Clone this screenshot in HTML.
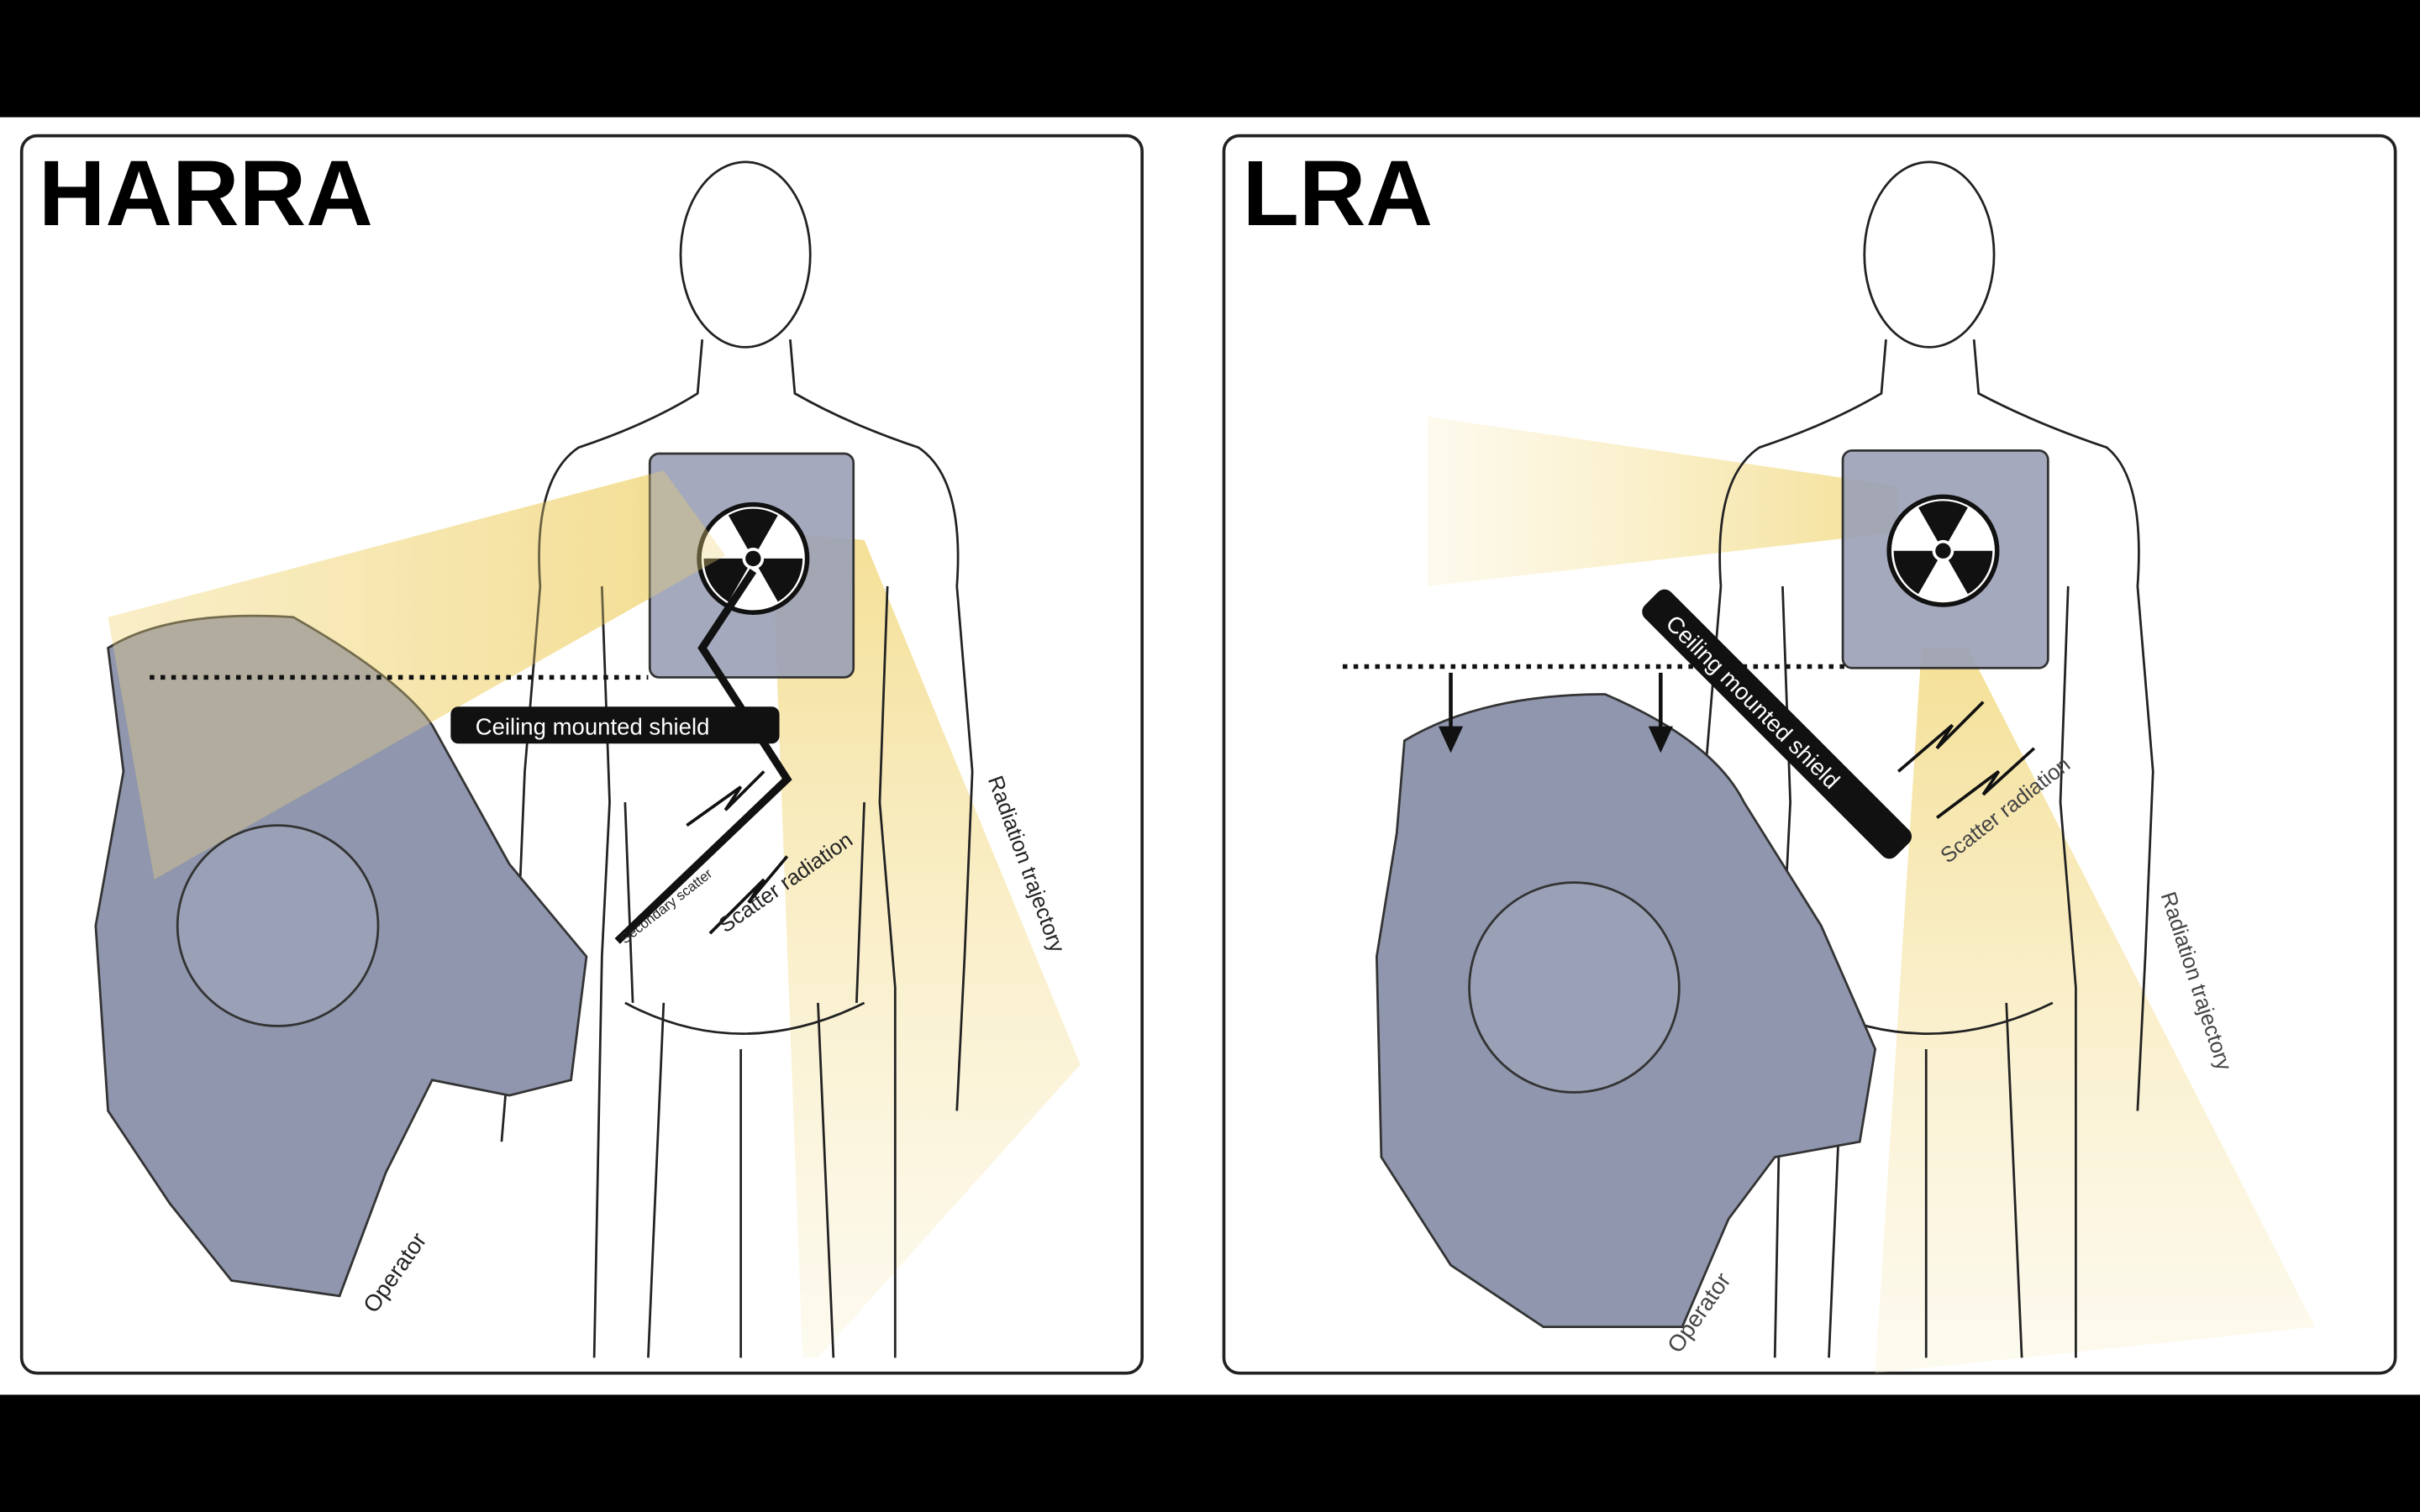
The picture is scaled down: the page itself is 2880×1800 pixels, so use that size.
<!DOCTYPE html>
<html><head><meta charset="utf-8"><style>html,body{margin:0;padding:0;background:#000}svg{display:block}</style></head><body>
<svg width="2880" height="1800" viewBox="0 0 1568 980" xmlns="http://www.w3.org/2000/svg" font-family="Liberation Sans, sans-serif">
<defs>
<linearGradient id="bl" x1="1" y1="0" x2="0" y2="0"><stop offset="0" stop-color="#f3dc8a" stop-opacity=".9"/><stop offset="1" stop-color="#f7e7a8" stop-opacity=".2"/></linearGradient>
<linearGradient id="bd" x1="0" y1="0" x2="0" y2="1"><stop offset="0" stop-color="#f3dc8a" stop-opacity=".9"/><stop offset="1" stop-color="#f8ecc0" stop-opacity=".25"/></linearGradient>
</defs>
<rect width="1568" height="980" fill="#000"/>
<rect x="0" y="76" width="1568" height="828" fill="#fff"/>
<rect x="14" y="88" width="726" height="802" rx="10" fill="#fff" stroke="#222" stroke-width="2"/>
<rect x="793" y="88" width="759" height="802" rx="10" fill="#fff" stroke="#222" stroke-width="2"/>

<!-- LEFT PANEL -->
<polygon points="430,305 70,400 100,570 470,360" fill="url(#bl)"/>
<polygon points="500,345 560,350 700,690 530,880 520,880" fill="url(#bd)"/>
<g fill="none" stroke="#222" stroke-width="1.5">
<ellipse cx="483" cy="165" rx="42" ry="60"/>
<path d="M455,220 L452,255 Q420,275 375,290 Q345,310 350,380 L340,500 L335,620 L325,740"/>
<path d="M512,220 L515,255 Q550,275 595,290 Q625,310 620,380 L630,500 L625,620 L620,720"/>
<path d="M390,380 L395,520 L390,620 L385,880 M405,520 L410,650"/>
<path d="M575,380 L570,520 L580,640 L580,880 M560,520 L555,650"/>
<path d="M430,650 L420,880 M530,650 L540,880 M480,680 L480,880"/>
<path d="M405,650 Q480,690 560,650"/>
</g>
<rect x="421" y="294" width="132" height="145" rx="6" fill="#9aa0b6" fill-opacity=".9" stroke="#333" stroke-width="1.5"/>
<circle cx="488" cy="362" r="35" fill="#fff" stroke="#111" stroke-width="3"/>
<g fill="#111"><path d="M488,362 L472,334 A32,32 0 0 1 504,334 Z"/><path d="M488,362 L520,362 A32,32 0 0 1 504,390 Z"/><path d="M488,362 L472,390 A32,32 0 0 1 456,362 Z"/></g>
<circle cx="488" cy="362" r="7" fill="#fff"/><circle cx="488" cy="362" r="5" fill="#111"/>
<path d="M70,420 Q110,395 190,400 Q260,440 280,470 L330,560 L380,620 L370,700 L330,710 L280,700 L250,760 L220,840 L150,830 L110,780 L70,720 L62,600 L80,500 Z" fill="#8f96ad" stroke="#333" stroke-width="1.5"/>
<circle cx="180" cy="600" r="65" fill="#9aa0b6" stroke="#333" stroke-width="1.5"/>
<polygon points="430,305 70,400 100,570 470,360" fill="#f0d680" fill-opacity=".35"/>
<line x1="97" y1="439" x2="420" y2="439" stroke="#111" stroke-width="3" stroke-dasharray="3,4"/>
<polyline points="488,370 455,420 510,505 400,610" fill="none" stroke="#111" stroke-width="5"/>
<path d="M445,535 L480,510 L470,525 L495,500" fill="none" stroke="#111" stroke-width="2"/>
<path d="M460,605 L495,570 L485,585 L510,555" fill="none" stroke="#111" stroke-width="2"/>
<rect x="292" y="458" width="213" height="24" rx="5" fill="#111"/>
<text x="308" y="476" font-size="15" fill="#fff">Ceiling mounted shield</text>
<text x="25" y="146" font-size="60" font-weight="bold" fill="#000">HARRA</text>
<text transform="translate(470,605) rotate(-35)" font-size="14" fill="#222">Scatter radiation</text>
<text transform="translate(405,612) rotate(-38)" font-size="9" fill="#222">Secondary scatter</text>
<text transform="translate(640,505) rotate(70)" font-size="14" fill="#222">Radiation trajectory</text>
<text transform="translate(243,852) rotate(-55)" font-size="15" fill="#222">Operator</text>

<!-- RIGHT PANEL -->
<polygon points="1230,315 925,270 925,380 1230,345" fill="url(#bl)"/>
<polygon points="1245,420 1275,420 1500,860 1215,890" fill="url(#bd)"/>
<g fill="none" stroke="#222" stroke-width="1.5">
<ellipse cx="1250" cy="165" rx="42" ry="60"/>
<path d="M1222,220 L1219,255 Q1185,275 1140,290 Q1110,310 1115,380 L1105,500 L1100,620 L1095,740"/>
<path d="M1279,220 L1282,255 Q1320,275 1365,290 Q1390,310 1385,380 L1395,500 L1390,620 L1385,720"/>
<path d="M1155,380 L1160,520 L1155,620 L1150,880 M1340,380 L1335,520 L1345,640 L1345,880"/>
<path d="M1195,650 L1185,880 M1300,650 L1310,880 M1248,680 L1248,880"/>
<path d="M1170,650 Q1248,690 1330,650"/>
</g>
<rect x="1194" y="292" width="133" height="141" rx="6" fill="#9aa0b6" fill-opacity=".9" stroke="#333" stroke-width="1.5"/>
<circle cx="1259" cy="357" r="35" fill="#fff" stroke="#111" stroke-width="3"/>
<g fill="#111"><path d="M1259,357 L1243,329 A32,32 0 0 1 1275,329 Z"/><path d="M1259,357 L1291,357 A32,32 0 0 1 1275,385 Z"/><path d="M1259,357 L1243,385 A32,32 0 0 1 1227,357 Z"/></g>
<circle cx="1259" cy="357" r="7" fill="#fff"/><circle cx="1259" cy="357" r="5" fill="#111"/>
<path d="M910,480 Q960,450 1040,450 Q1110,480 1130,520 L1180,600 L1215,680 L1205,740 L1150,750 L1120,790 L1090,860 L1000,860 L940,820 L895,750 L892,620 L905,540 Z" fill="#8f96ad" stroke="#333" stroke-width="1.5"/>
<circle cx="1020" cy="640" r="68" fill="#9aa0b6" stroke="#333" stroke-width="1.5"/>
<line x1="870" y1="432" x2="1195" y2="432" stroke="#111" stroke-width="3" stroke-dasharray="3,4"/>
<g stroke="#111" stroke-width="2.5" fill="#111">
<line x1="940" y1="436" x2="940" y2="474"/><polygon points="934,472 946,472 940,485"/>
<line x1="1076" y1="436" x2="1076" y2="474"/><polygon points="1070,472 1082,472 1076,485"/>
</g>
<g transform="translate(1070,388) rotate(45)"><rect x="0" y="-12" width="230" height="24" rx="6" fill="#111"/><text x="18" y="6" font-size="15" fill="#fff">Ceiling mounted shield</text></g>
<path d="M1230,500 L1265,470 L1255,485 L1285,455" fill="none" stroke="#111" stroke-width="2"/>
<path d="M1255,530 L1295,500 L1285,515 L1318,485" fill="none" stroke="#111" stroke-width="2"/>
<text x="805" y="146" font-size="60" font-weight="bold" fill="#000">LRA</text>
<text transform="translate(1262,560) rotate(-38)" font-size="14" fill="#444">Scatter radiation</text>
<text transform="translate(1400,580) rotate(72)" font-size="14" fill="#444">Radiation trajectory</text>
<text transform="translate(1088,878) rotate(-55)" font-size="15" fill="#444">Operator</text>
</svg>
</body></html>
